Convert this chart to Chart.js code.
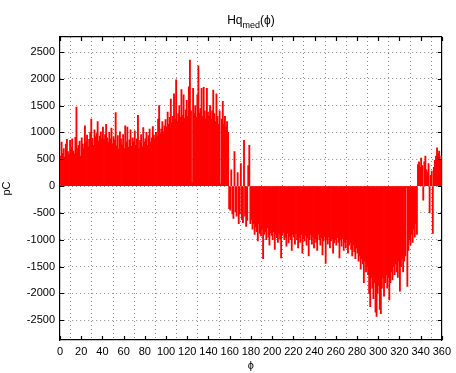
<!DOCTYPE html>
<html>
<head>
<meta charset="utf-8">
<script src="https://cdn.jsdelivr.net/npm/chart.js@4.4.1/dist/chart.umd.min.js"></script>
<style>
  html, body { margin: 0; padding: 0; background: #fff; }
  #wrap { width: 456px; height: 373px; }
</style>
</head>
<body>
<div id="wrap"><canvas id="myChart" width="456" height="373"></canvas></div>
<script>
// Hq_med(phi) - one bar per degree

const phi = [];
for (let i = 0; i < 360; i++) phi.push(i + 0.5);

const hq = [
  560, 820, 610, 700, 540, 780, 870, 640, 590, 850,
  720, 880, 650, 600, 910, 1470, 700, 760, 840, 560,
  900, 780, 700, 1120, 820, 950, 730, 870, 1000, 1250,
  890, 760, 1050, 920, 980, 1200, 840, 930, 1010, 880,
  1100, 870, 960, 1150, 900, 820, 1000, 880, 1080, 790,
  920, 860, 1370, 750, 940, 690, 1010, 880, 770, 960,
  700, 1120, 820, 1100, 720, 860, 1050, 740, 900, 830,
  1030, 760, 880, 1320, 700, 850, 960, 730, 1090, 820,
  880, 1000, 760, 940, 1060, 820, 900, 1110, 950, 880,
  1000, 920, 1250, 1500, 980, 1060, 1200, 1010, 1120, 1240,
  1100, 1380, 1150, 1280, 1620, 1180, 1300, 1720, 1250, 1980,
  1200, 1350, 1500, 1280, 1800, 1320, 1700, 1260, 1420, 1600,
  1300, 1850, 2350, 1400, 60, 1820, 1350, 1500, 1280, 1700,
  2240, 1360, 1450, 1820, 1300, 1840, 1400, 1250, 1820, 1380,
  1300, 1500, 1250, 1400, 1790, 1350, 1200, 1720, 1300, 1150,
  1400, 40, 1250, 1580, 1150, 1300, 1100, 1200, 1000, -420,
  -450, 300, -520, -600, 640, -480, -560, 250, -700, -520,
  420, -620, -680, 850, -560, -750, -640, 380, 760, -700,
  -620, -800, -700, -900, -760, -850, -1020, -700, -880, -930,
  -800, -1350, -900, -850, -1000, -780, -950, -1100, -870, -920,
  -1000, -850, -1180, -900, -960, -1050, -880, -990, -1340, -920,
  -860, -1000, -950, -1120, -880, -1060, -940, -1000, -1200, -900,
  -950, -1080, -880, -1000, -1150, -960, -1050, -900, -1250, -980,
  -1020, -920, -1100, -960, -1300, -1000, -900, -1080, -950, -1150,
  -980, -1050, -1200, -900, -1000, -1100, -960, -1280, -1020, -940,
  -1440, -1000, -1080, -950, -1150, -1020, -980, -1250, -1060, -1000,
  -1100, -960, -1050, -1340, -1000, -1120, -980, -1200, -1050, -1150,
  -1000, -1250, -1100, -1050, -1180, -1300, -1100, -1220, -1350, -1150,
  -1250, -1400, -1300, -1550, -1350, -1450, -1800, -1400, -1600, -1500,
  -1650, -2000, -2245, -1700, -1900, -2100, -1800, -2350, -2430, -2000,
  -1850, -2300, -2380, -1900, -1700, -2050, -1800, -1650, -1900, -1700,
  -2120, -1800, -1600, -1750, -1500, -1650, -1450, -1600, -1700, -1400,
  -1960, -1500, -1350, -1600, -1400, -1300, -30, -1870, -1200, -1000,
  -1100, -900, -1050, -800, -950, -700, -900, 400, 450, 350,
  520, 380, -260, 450, 560, 300, 250, 420, -500, 200,
  280, -880, 350, 480, 560, 710, 600, 650, 480, 560
];

const xTicks = [0, 20, 40, 60, 80, 100, 120, 140, 160, 180, 200, 220, 240, 260, 280, 300, 320, 340, 360];
const yTicks = [-2500, -2000, -1500, -1000, -500, 0, 500, 1000, 1500, 2000, 2500];

const FONT = 'Liberation Sans, Arial, Helvetica, sans-serif';

// inward ticks and the subscripted title, matlab style
const matlabAxes = {
  id: 'matlabAxes',
  afterDraw(chart) {
    const ctx = chart.ctx;
    const a = chart.chartArea;
    const xs = chart.scales.x, ys = chart.scales.y;
    ctx.save();
    ctx.setLineDash([]);
    ctx.strokeStyle = '#000000';
    ctx.lineWidth = 1.2;
    ctx.beginPath();
    xTicks.forEach(v => {
      const px = Math.round(xs.getPixelForValue(v)) + 0.5;
      ctx.moveTo(px, a.bottom); ctx.lineTo(px, a.bottom - 4);
      ctx.moveTo(px, a.top); ctx.lineTo(px, a.top + 4);
    });
    yTicks.forEach(v => {
      const py = Math.round(ys.getPixelForValue(v)) + 0.5;
      ctx.moveTo(a.left, py); ctx.lineTo(a.left + 4, py);
      ctx.moveTo(a.right, py); ctx.lineTo(a.right - 4, py);
    });
    ctx.stroke();
    ctx.restore();

    ctx.save();
    ctx.fillStyle = '#000';
    ctx.textBaseline = 'alphabetic';
    ctx.textAlign = 'left';
    const big = '12px ' + FONT, small = '9px ' + FONT;
    ctx.font = big; const w1 = ctx.measureText('Hq').width, w3 = ctx.measureText('(\u03d5)').width;
    ctx.font = small; const w2 = ctx.measureText('med').width;
    let x = (a.left + a.right) / 2 - (w1 + w2 + w3) / 2;
    ctx.font = big; ctx.fillText('Hq', x, 24); x += w1;
    ctx.font = small; ctx.fillText('med', x, 28); x += w2;
    ctx.font = big; ctx.fillText('(\u03d5)', x, 24);
    ctx.restore();
  }
};

const data = {
  labels: phi,
  datasets: [{
    label: 'Hq med',
    backgroundColor: 'rgb(255, 0, 0)',
    borderWidth: 0,
    inflateAmount: 0.4,
    barPercentage: 1.0,
    categoryPercentage: 1.0,
    data: hq
  }]
};

const gridOpts = { color: '#8a8a8a', drawTicks: false };
const tickFont = { family: FONT, size: 11 };

const config = {
  type: 'bar',
  data: data,
  plugins: [matlabAxes],
  options: {
    responsive: false,
    animation: false,
    layout: { padding: { top: 37, right: 10, left: 0, bottom: 0 } },
    plugins: {
      legend: { display: false },
      tooltip: { enabled: false }
    },
    scales: {
      x: {
        type: 'linear',
        min: 0,
        max: 360,
        offset: false,
        afterBuildTicks: s => { s.ticks = xTicks.map(v => ({ value: v })); },
        afterFit: s => { s.height = 33; },
        grid: gridOpts,
        border: { display: true, color: '#000', width: 1.2, dash: [1, 3] },
        ticks: { color: '#000', font: tickFont, padding: 5, maxRotation: 0, autoSkip: false,
                 callback: v => String(v) },
        title: { display: true, text: '\u03d5', color: '#000', font: tickFont, padding: 0 }
      },
      xTop: {
        type: 'linear',
        position: 'top',
        min: 0,
        max: 360,
        afterFit: s => { s.height = 0; },
        grid: { display: false },
        border: { display: true, color: '#000', width: 1.2 },
        ticks: { display: false }
      },
      y: {
        min: -2870,
        max: 2780,
        afterBuildTicks: s => { s.ticks = yTicks.map(v => ({ value: v })); },
        afterFit: s => { s.width = 60; },
        grid: gridOpts,
        border: { display: true, color: '#000', width: 1.2, dash: [1, 3] },
        ticks: { color: '#000', font: tickFont, padding: 5, callback: v => String(v) },
        title: { display: true, text: 'pC', color: '#000', font: tickFont, padding: 0 }
      },
      yRight: {
        position: 'right',
        min: -2870,
        max: 2780,
        afterFit: s => { s.width = 0; },
        grid: { display: false },
        border: { display: true, color: '#000', width: 1.2 },
        ticks: { display: false }
      }
    }
  }
};

let myChart = new Chart(document.getElementById('myChart'), config);
</script>
</body>
</html>
